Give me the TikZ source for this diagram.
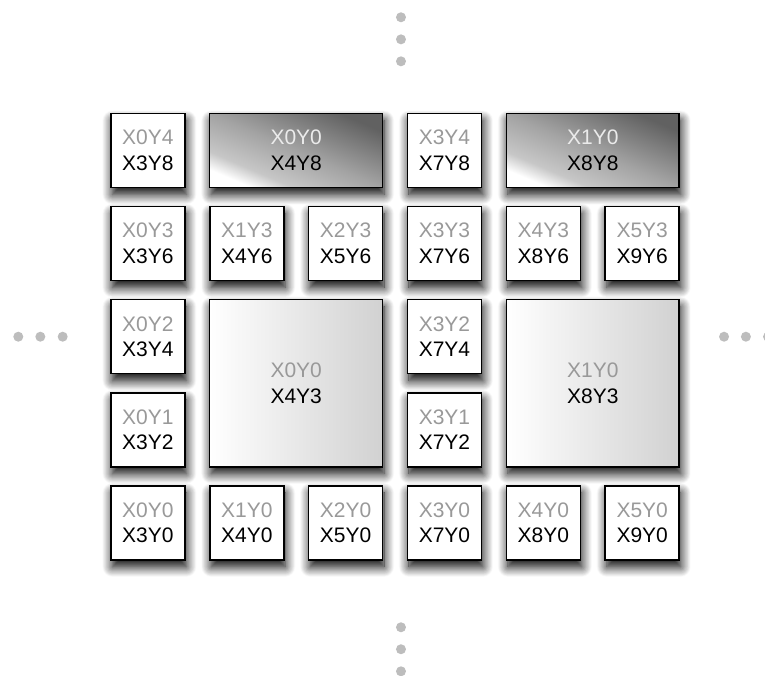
\documentclass[tikz,border=0pt]{standalone}
\usepackage{fontspec}
\setmainfont{Liberation Sans}
\usetikzlibrary{shadows.blur}

\definecolor{virtgray}{gray}{0.6}
\definecolor{virtpale}{gray}{0.92}
\newcommand{\virt}[1]{\textcolor{virtgray}{#1}}
\newcommand{\virtpale}[1]{\textcolor{virtpale}{#1}}

% white only in the lower corner, mid grey across most of the box
\pgfdeclareverticalshading{corner glow}{100bp}{%
    color(0bp)=(white); color(25bp)=(white); color(33bp)=(black!22);
    color(50bp)=(black!36); color(75bp)=(black!62); color(100bp)=(black!62)}

\tikzset{
    tile/.style={draw=black, line width=1.5pt, fill=white,
        minimum width=74pt, minimum height=74pt, inner sep=0pt,
        align=center, font=\fontsize{21}{25.7}\selectfont,
        blur shadow={shadow xshift=1.5pt, shadow yshift=-7pt,
            shadow blur radius=10pt, shadow blur steps=14,
            shadow opacity=100}},
    % angle follows the 173:74 box diagonal
    widetile/.style={tile, minimum width=172.9pt,
        shade, shading=corner glow, shading angle=-23.2},
    bigtile/.style={tile, minimum width=172.9pt, minimum height=167.1pt,
        left color=white, right color=black!18},
    gapdot/.style={fill=black!26}
}

\begin{document}
\begin{tikzpicture}[x=98.86pt, y=-93.1pt]
    \useasboundingbox (-147.9pt,150.5pt) rectangle (617.1pt,-524.5pt);

    % Top row
    \node[tile] (x3y8) at (0,0) {\virt{X0Y4}\\X3Y8};
    \node[widetile] (x4y8) at (1.5,0) {\virtpale{X0Y0}\\X4Y8};
    \node[tile] (x7y8) at (3,0) {\virt{X3Y4}\\X7Y8};
    \node[widetile] (x8y8) at (4.5,0) {\virtpale{X1Y0}\\X8Y8};

    % Second row
    \node[tile] (x3y6) at (0,1) {\virt{X0Y3}\\X3Y6};
    \node[tile] (x4y6) at (1,1) {\virt{X1Y3}\\X4Y6};
    \node[tile] (x5y6) at (2,1) {\virt{X2Y3}\\X5Y6};
    \node[tile] (x7y6) at (3,1) {\virt{X3Y3}\\X7Y6};
    \node[tile] (x8y6) at (4,1) {\virt{X4Y3}\\X8Y6};
    \node[tile] (x9y6) at (5,1) {\virt{X5Y3}\\X9Y6};

    % Middle rows with the two large blocks
    \node[tile] (x3y4) at (0,2) {\virt{X0Y2}\\X3Y4};
    \node[tile] (x3y2) at (0,3) {\virt{X0Y1}\\X3Y2};
    \node[bigtile] (x4y3) at (1.5,2.5) {\virt{X0Y0}\\X4Y3};
    \node[tile] (x7y4) at (3,2) {\virt{X3Y2}\\X7Y4};
    \node[tile] (x7y2) at (3,3) {\virt{X3Y1}\\X7Y2};
    \node[bigtile] (x8y3) at (4.5,2.5) {\virt{X1Y0}\\X8Y3};

    % Bottom row
    \node[tile] (x3y0) at (0,4) {\virt{X0Y0}\\X3Y0};
    \node[tile] (x4y0) at (1,4) {\virt{X1Y0}\\X4Y0};
    \node[tile] (x5y0) at (2,4) {\virt{X2Y0}\\X5Y0};
    \node[tile] (x7y0) at (3,4) {\virt{X3Y0}\\X7Y0};
    \node[tile] (x8y0) at (4,4) {\virt{X4Y0}\\X8Y0};
    \node[tile] (x9y0) at (5,4) {\virt{X5Y0}\\X9Y0};

    % Continuation dots
    \fill[gapdot] (2.56,-1.431) circle (5pt) (2.56,-1.194) circle (5pt) (2.56,-0.958) circle (5pt);
    \fill[gapdot] (2.56,5.121) circle (5pt) (2.56,5.357) circle (5pt) (2.56,5.594) circle (5pt);
    \fill[gapdot] (-1.311,2) circle (5pt) (-1.088,2) circle (5pt) (-0.862,2) circle (5pt);
    \fill[gapdot] (5.828,2) circle (5pt) (6.049,2) circle (5pt) (6.273,2) circle (5pt);
\end{tikzpicture}
\end{document}
